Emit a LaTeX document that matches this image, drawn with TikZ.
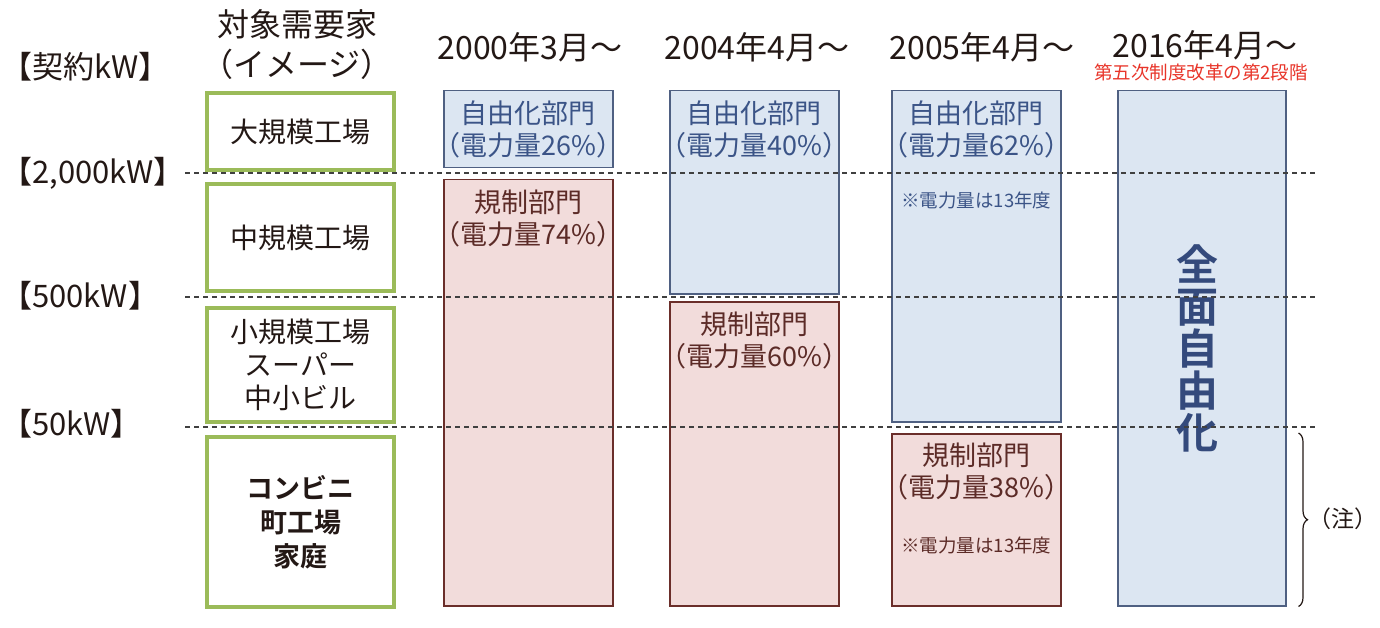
\documentclass[tikz,border=0pt]{standalone}
\usepackage{fontspec}
\setmainfont{Noto Sans CJK JP}[BoldFont={Noto Sans CJK JP Bold}]
\usepackage{tikz}
\usetikzlibrary{positioning,decorations.pathreplacing}
\definecolor{ink}{HTML}{231815}
\definecolor{targetgreen}{HTML}{9BBB59}
\definecolor{libfill}{HTML}{DCE6F2}
\definecolor{libline}{HTML}{4F6082}
\definecolor{libink}{HTML}{3B5487}
\definecolor{fullink}{HTML}{344A7C}
\definecolor{regfill}{HTML}{F2DCDB}
\definecolor{regline}{HTML}{6B2E2A}
\definecolor{regink}{HTML}{5C2B27}
\definecolor{guidegray}{HTML}{404040}
\definecolor{reformred}{HTML}{E8352A}
\tikzstyle{kwlabel} = [font=\fontsize{31}{36}\selectfont, text=ink, anchor=west, inner sep=0pt]
\tikzstyle{yearhead} = [font=\fontsize{32}{40}\selectfont, text=ink, align=center, inner sep=0pt]
\tikzstyle{target} = [rectangle, draw=targetgreen, line width=4pt, fill=white, inner sep=0pt, anchor=north west, minimum width=187pt, align=center, text=ink, font=\fontsize{28}{33}\selectfont]
\tikzstyle{libbox} = [rectangle, draw=libline, fill=libfill, line width=1.5pt, inner sep=0pt, anchor=north west, minimum width=169pt]
\tikzstyle{regbox} = [rectangle, draw=regline, fill=regfill, line width=1.5pt, inner sep=0pt, anchor=north west, minimum width=169pt]
\tikzstyle{libtext} = [font=\fontsize{27}{32}\selectfont, text=libink, align=center, inner sep=0pt]
\tikzstyle{regtext} = [font=\fontsize{27}{32}\selectfont, text=regink, align=center, inner sep=0pt]
\tikzstyle{smallnote} = [font=\fontsize{18.5}{22}\selectfont, inner sep=0pt]
\tikzstyle{guide} = [draw=guidegray, line width=1.2pt, dash pattern=on 5pt off 4pt]
\tikzstyle{notebrace} = [draw=ink, line width=1.2pt, decorate, decoration={brace, amplitude=9pt}]
\begin{document}
\begin{tikzpicture}[x=1pt,y=-1pt]
\useasboundingbox (0,0) rectangle (1380,628);
\node (kwhead) [kwlabel] at (1,67) {【契約kW】};
\node (kw2000) [kwlabel] at (1,173) {【2,000kW】};
\node (kw500) [kwlabel] at (1,296) {【500kW】};
\node (kw50) [kwlabel] at (1,424) {【50kW】};

\node (targethead) [yearhead] at (297,45) {対象需要家\\（イメージ）};
\node (year2000) [yearhead] at (530,47) {2000年3月～};
\node (year2004) [yearhead] at (757,47) {2004年4月～};
\node (year2005) [yearhead] at (982,47) {2005年4月～};
\node (year2016) [yearhead] at (1205,45) {2016年4月～};
\node (reform) [smallnote, text=reformred] at (1201,72) {第五次制度改革の第2段階};

\node (large) [target, minimum height=77pt] at (205,91) {大規模工場};
\node (medium) [target, minimum height=107pt] at (205,182) {中規模工場};
\node (small) [target, minimum height=114pt] at (205,306) {小規模工場\\スーパー\\中小ビル};
\node (katei) [target, minimum height=170pt, font=\fontsize{27}{34}\selectfont\bfseries] at (205,435) {コンビニ\\町工場\\家庭};

\node (lib2000) [libbox, minimum height=77pt] at (443,90) {};
\node (reg2000) [regbox, minimum height=426pt] at (443,179) {};
\node (lib2004) [libbox, minimum height=203pt] at (669,90) {};
\node (reg2004) [regbox, minimum height=304pt] at (669,301) {};
\node (lib2005) [libbox, minimum height=331pt] at (891,90) {};
\node (reg2005) [regbox, minimum height=172pt] at (891,433) {};
\node (full2016) [libbox, minimum width=168pt, minimum height=515pt] at (1117,90) {};

\node (lib2000txt) [libtext] at ([yshift=-39pt]lib2000.north) {自由化部門\\（電力量26\%）};
\node (reg2000txt) [regtext] at ([yshift=-40pt]reg2000.north) {規制部門\\（電力量74\%）};
\node (lib2004txt) [libtext] at ([yshift=-39pt]lib2004.north) {自由化部門\\（電力量40\%）};
\node (reg2004txt) [regtext] at ([yshift=-40pt]reg2004.north) {規制部門\\（電力量60\%）};
\node (lib2005txt) [libtext] at ([yshift=-39pt]lib2005.north) {自由化部門\\（電力量62\%）};
\node (lib2005note) [smallnote, text=libink] at ([yshift=-110pt]lib2005.north) {※電力量は13年度};
\node (reg2005txt) [regtext] at ([yshift=-39pt]reg2005.north) {規制部門\\（電力量38\%）};
\node (reg2005note) [smallnote, text=regink] at ([yshift=-112pt]reg2005.north) {※電力量は13年度};
\node (fulltxt) [font=\fontsize{42}{42}\selectfont\bfseries, text=fullink, align=center, inner sep=0pt] at (1197,348) {全\\面\\自\\由\\化};

\coordinate (g2000) at (185,173);
\coordinate (g500) at (185,297);
\coordinate (g50) at (185,427);
\coordinate (gend) at (1318,0);
\draw [guide] (g2000) -- (g2000 -| gend);
\draw [guide] (g500) -- (g500 -| gend);
\draw [guide] (g50) -- (g50 -| gend);

\coordinate (bracetop) at ([xshift=12pt]full2016.east |- reg2005.north);
\coordinate (bracebot) at ([xshift=12pt]full2016.south east);
\draw [notebrace] (bracetop) -- (bracebot);
\node (chu) [font=\fontsize{23}{26}\selectfont, text=ink, inner sep=0pt] at (1343,519) {（注）};
\end{tikzpicture}
\end{document}
